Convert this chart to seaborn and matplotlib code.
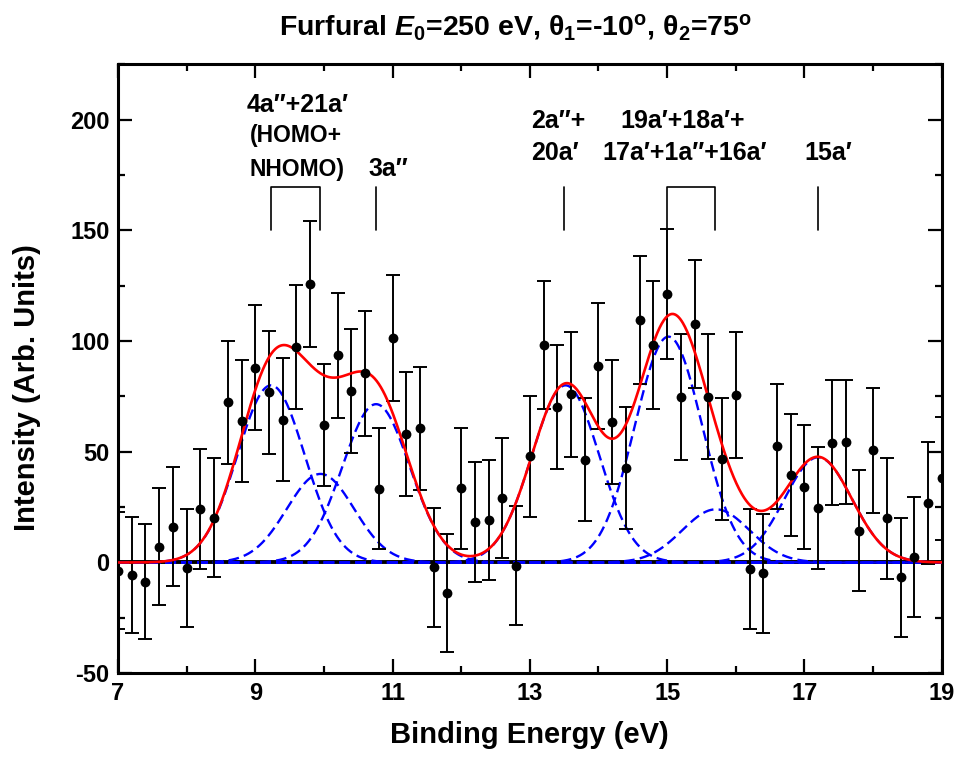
import numpy as np
import pandas as pd
import matplotlib
matplotlib.use('Agg')
import matplotlib.pyplot as plt
import seaborn as sns

# measured points (binding energy, intensity, error)
energy = [7.0, 7.2, 7.4, 7.6, 7.8, 8.0, 8.2, 8.4, 8.6, 8.8,
          9.0, 9.2, 9.4, 9.6, 9.8, 10.0, 10.2, 10.4, 10.6, 10.8,
          11.0, 11.2, 11.4, 11.6, 11.8, 12.0, 12.2, 12.4, 12.6, 12.8,
          13.0, 13.2, 13.4, 13.6, 13.8, 14.0, 14.2, 14.4, 14.6, 14.8,
          15.0, 15.2, 15.4, 15.6, 15.8, 16.0, 16.2, 16.4, 16.6, 16.8,
          17.0, 17.2, 17.4, 17.6, 17.8, 18.0, 18.2, 18.4, 18.6, 18.8, 19.0]
intensity = [-3.7, -5.7, -8.7, 7.2, 16.2, -2.5, 24.1, 20.2, 72.3, 63.9,
             88.0, 76.8, 64.4, 97.3, 125.7, 62.0, 93.6, 77.6, 85.4, 33.4,
             101.4, 58.1, 60.6, -2.2, -13.8, 33.5, 18.3, 19.2, 29.2, -1.5,
             47.9, 98.2, 70.4, 75.9, 46.4, 88.8, 63.3, 42.7, 109.3, 98.2,
             121.3, 74.7, 107.8, 74.9, 46.7, 75.6, -3.0, -4.9, 52.4, 39.5,
             34.1, 24.6, 54.1, 54.5, 14.4, 50.6, 19.9, -6.7, 2.4, 27.0, 38.0]
error = [26.5, 26.3, 26.0, 26.5, 26.9, 26.6, 27.0, 26.8, 27.8, 27.6,
         28.3, 27.8, 27.8, 28.2, 28.5, 27.5, 28.2, 28.0, 28.2, 27.3,
         28.5, 28.0, 27.7, 26.8, 26.5, 27.2, 27.1, 27.0, 27.2, 26.8,
         27.5, 28.7, 28.0, 28.3, 27.8, 28.4, 28.0, 27.6, 28.9, 28.7,
         29.2, 28.4, 28.8, 28.3, 27.6, 28.4, 27.0, 27.0, 28.1, 27.6,
         27.8, 27.4, 28.1, 28.1, 27.4, 28.1, 27.5, 26.8, 27.1, 27.6, 27.8]

# fitted gaussian components
peak_pos = [9.23, 9.95, 10.76, 13.52, 15.02, 15.71, 17.2]
peak_height = [80.0, 40.0, 71.5, 80.0, 102.0, 24.0, 47.5]
peak_sigma = [0.49, 0.49, 0.49, 0.49, 0.49, 0.49, 0.49]

# orbital assignment marks
single_marks = [10.76, 13.5, 17.2]
bracket_marks = [(9.23, 9.95), (15.0, 15.7)]

sns.set_theme(style='ticks')
plt.rcParams['font.family'] = ['Liberation Sans', 'DejaVu Sans']
plt.rcParams['font.weight'] = 'bold'
plt.rcParams['text.color'] = 'black'
plt.rcParams['axes.labelcolor'] = 'black'
plt.rcParams['xtick.color'] = 'black'
plt.rcParams['ytick.color'] = 'black'
plt.rcParams['axes.unicode_minus'] = False
plt.rcParams['mathtext.fontset'] = 'custom'
plt.rcParams['mathtext.rm'] = 'Liberation Sans:bold'
plt.rcParams['mathtext.it'] = 'Liberation Sans:bold:italic'
plt.rcParams['mathtext.bf'] = 'Liberation Sans:bold'

df = pd.DataFrame({'energy': energy, 'intensity': intensity, 'error': error})

x_fit = np.linspace(7, 19, 1201)
comps = [h * np.exp(-(x_fit - c) ** 2 / (2 * s ** 2))
         for c, h, s in zip(peak_pos, peak_height, peak_sigma)]
total = np.sum(comps, axis=0)

fig = plt.figure(figsize=(9.59, 7.65), dpi=100)
ax = fig.add_axes([0.123, 0.12, 0.859, 0.796])

ax.axhline(0, color='black', lw=2.8, zorder=2)
for comp in comps:
    ax.plot(x_fit, comp, color='blue', lw=1.7, dashes=(4.5, 2.2), zorder=3)
sns.lineplot(x=x_fit, y=total, color='red', lw=1.9, ax=ax, zorder=4)

ax.errorbar(df['energy'], df['intensity'], yerr=df['error'], fmt='none',
            ecolor='black', elinewidth=1.4, capsize=5, capthick=1.4, zorder=3.5)
sns.scatterplot(data=df, x='energy', y='intensity', color='black', s=50,
                edgecolor='black', linewidth=0, ax=ax, zorder=5)

# assignment tick marks
for m in single_marks:
    ax.plot([m, m], [150, 169.5], color='black', lw=1.2)
for a, b in bracket_marks:
    ax.plot([a, a, b, b], [150, 169.5, 169.5, 150], color='black', lw=1.2)

fs = 18
fs2 = 16.5
ax.text(8.87, 206.5, '4a\u2033+21a\u2032', fontsize=fs, ha='left', va='center')
ax.text(8.92, 193, '(HOMO+', fontsize=fs2, ha='left', va='center')
ax.text(8.92, 177.5, 'NHOMO)', fontsize=fs2, ha='left', va='center')
ax.text(10.94, 177.5, '3a\u2033', fontsize=fs, ha='center', va='center')
ax.text(13.02, 199.5, '2a\u2033+', fontsize=fs, ha='left', va='center')
ax.text(13.02, 185, '20a\u2032', fontsize=fs, ha='left', va='center')
ax.text(15.22, 199.5, '19a\u2032+18a\u2032+', fontsize=fs, ha='center', va='center')
ax.text(15.26, 185, '17a\u2032+1a\u2033+16a\u2032', fontsize=fs, ha='center', va='center')
ax.text(17.34, 185, '15a\u2032', fontsize=fs, ha='center', va='center')

ax.set_xlim(7, 19)
ax.set_ylim(-50, 225)
ax.set_xticks([7, 9, 11, 13, 15, 17, 19])
ax.set_xticks([8, 10, 12, 14, 16, 18], minor=True)
ax.set_yticks([-50, 0, 50, 100, 150, 200])
ax.set_yticks([-25, 25, 75, 125, 175, 225], minor=True)
ax.tick_params(which='both', direction='in', top=True, right=True,
               width=1.6, labelsize=17, pad=6, colors='black')
ax.tick_params(which='major', length=10)
ax.tick_params(which='minor', length=5)
for sp in ax.spines.values():
    sp.set_linewidth(2.2)
    sp.set_color('black')

ax.set_xlabel('Binding Energy (eV)', fontsize=21, fontweight='bold', labelpad=12)
ax.set_ylabel('Intensity (Arb. Units)', fontsize=21, fontweight='bold')
ax.yaxis.set_label_coords(-0.093, 0.469)
ax.set_title(r'Furfural $E_{0}$=250 eV, θ$_{1}$=-10$^{\mathrm{o}}$, θ$_{2}$=75$^{\mathrm{o}}$',
             fontsize=20.5, fontweight='bold', pad=21, x=0.483)

fig.savefig('out.png', dpi=100)
